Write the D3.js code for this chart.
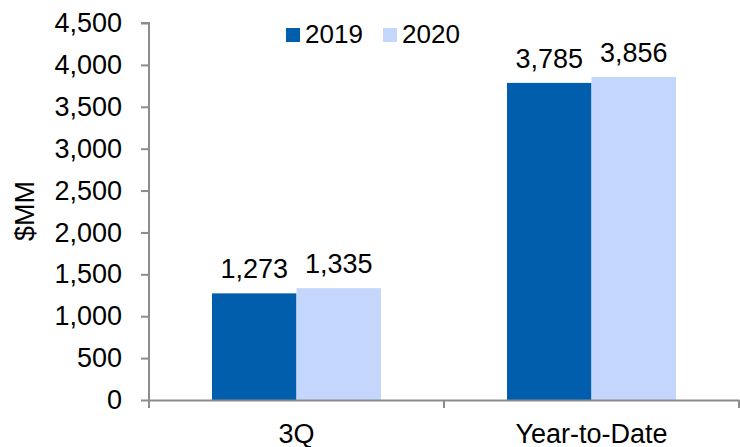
<!DOCTYPE html>
<html lang="en">
<head>
  <meta charset="UTF-8">
  <title>$MM 3Q vs YTD</title>
  <script src="https://d3js.org/d3.v7.min.js"></script>
  <style>
    body { margin: 0; background: #fff; font-family: 'Liberation Sans', Arial, sans-serif; }
    .axis path, .axis line { stroke: #8c8c8c; stroke-width: 2px; }
    .axis text { font-size: 27px; fill: #000; font-family: 'Liberation Sans', Arial, sans-serif; }
  </style>
</head>
<body>
  <div id="chart"></div>
  <script>
    const categories = ["3Q", "Year-to-Date"];
    const seriesNames = ["2019", "2020"];
    const values2019 = [1273, 3785];
    const values2020 = [1335, 3856];
    const yTicks = [0, 500, 1000, 1500, 2000, 2500, 3000, 3500, 4000, 4500];
    const colors = ["#005eac", "#c4d6fc"];

    const W = 740, H = 447;
    const margin = { top: 23, right: 1, bottom: 47, left: 149 };
    const width = W - margin.left - margin.right;
    const height = H - margin.top - margin.bottom;

    const svg = d3.select("#chart").append("svg")
      .attr("width", W).attr("height", H);
    const g = svg.append("g").attr("transform", `translate(${margin.left},${margin.top})`);

    const data = categories.map((c, i) => ({ cat: c, vals: [values2019[i], values2020[i]] }));

    const x = d3.scaleBand().domain(categories).range([0, width]).paddingInner(0).paddingOuter(0);
    const inner = d3.scaleBand().domain(seriesNames).range([63, x.bandwidth() - 63]);
    const y = d3.scaleLinear().domain([0, 4500]).range([height, 0]);

    // y axis
    const yAxis = g.append("g").attr("class", "y axis")
      .call(d3.axisLeft(y).tickValues(yTicks).tickFormat(d3.format(",")).tickSize(8).tickPadding(19));
    yAxis.select(".domain").attr("d", `M0,${height}V0H-8`);

    // bars
    const groups = g.selectAll(".grp").data(data).enter().append("g")
      .attr("transform", d => `translate(${x(d.cat)},0)`);

    groups.selectAll("rect").data(d => d.vals.map((v, i) => ({ v, s: seriesNames[i], i })))
      .enter().append("rect")
      .attr("x", d => inner(d.s))
      .attr("width", inner.bandwidth())
      .attr("y", d => y(d.v))
      .attr("height", d => height - y(d.v))
      .attr("fill", d => colors[d.i]);

    groups.selectAll("text").data(d => d.vals.map((v, i) => ({ v, s: seriesNames[i] })))
      .enter().append("text")
      .attr("x", d => inner(d.s) + inner.bandwidth() / 2)
      .attr("y", d => y(d.v) - 15)
      .attr("text-anchor", "middle")
      .style("font-size", "27px")
      .text(d => d3.format(",")(d.v));

    // x axis
    const xAxis = g.append("g").attr("class", "x axis")
      .attr("transform", `translate(0,${height})`)
      .call(d3.axisBottom(x).tickSize(0).tickPadding(24));
    // category boundary ticks
    xAxis.selectAll(".bound").data([0, x.bandwidth(), width]).enter().append("line")
      .attr("class", "bound")
      .attr("x1", d => d).attr("x2", d => d)
      .attr("y1", 0).attr("y2", 8);

    // y title
    svg.append("text")
      .attr("transform", `translate(34,${margin.top + 188}) rotate(-90)`)
      .attr("text-anchor", "middle")
      .style("font-size", "27px")
      .text("$MM");

    // legend
    const legend = svg.append("g").attr("transform", "translate(286,28)");
    seriesNames.forEach((s, i) => {
      const lg = legend.append("g").attr("transform", `translate(${i * 97},0)`);
      lg.append("rect").attr("width", 14).attr("height", 14).attr("fill", colors[i]);
      lg.append("text").attr("x", 19).attr("y", 15).style("font-size", "26px").text(s);
    });
  </script>
</body>
</html>
